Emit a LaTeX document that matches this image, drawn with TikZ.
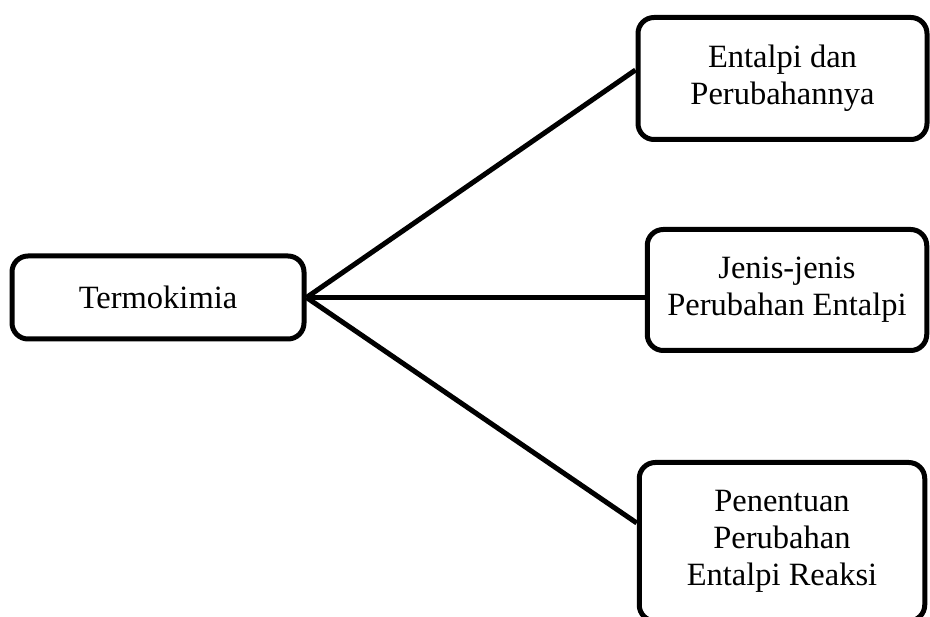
\documentclass[tikz,border=0pt]{standalone}
\usepackage{fontspec}
\setmainfont{Liberation Serif}
\begin{document}
\begin{tikzpicture}[x=1pt,y=-1pt,
  box/.style={draw=black, line width=5pt, rounded corners=16pt, fill=white,
    inner sep=0pt, align=center, font=\fontsize{32.5pt}{37pt}\selectfont},
  link/.style={draw=black, line width=5pt}]
\useasboundingbox (0,0) rectangle (930,617);
\node[box, minimum width=292pt, minimum height=83pt] (t) at (158,297.5) {Termokimia};
\node[box, minimum width=289pt, minimum height=122pt] (b1) at (782.5,78.5) {Entalpi dan\\Perubahannya};
\node[box, minimum width=279.5pt, minimum height=121pt] (b2) at (787,290) {Jenis-jenis\\Perubahan Entalpi};
\node[box, minimum width=285.5pt, minimum height=158.5pt] (b3) at (782,541.75) {Penentuan\\Perubahan\\Entalpi Reaksi};
\draw[link] (t.east) -- ([yshift=8.5pt]b1.west);
\draw[link] (t.east) -- ([yshift=-7.5pt]b2.west);
\draw[link] (t.east) -- ([yshift=18.75pt]b3.west);
\end{tikzpicture}
\end{document}
